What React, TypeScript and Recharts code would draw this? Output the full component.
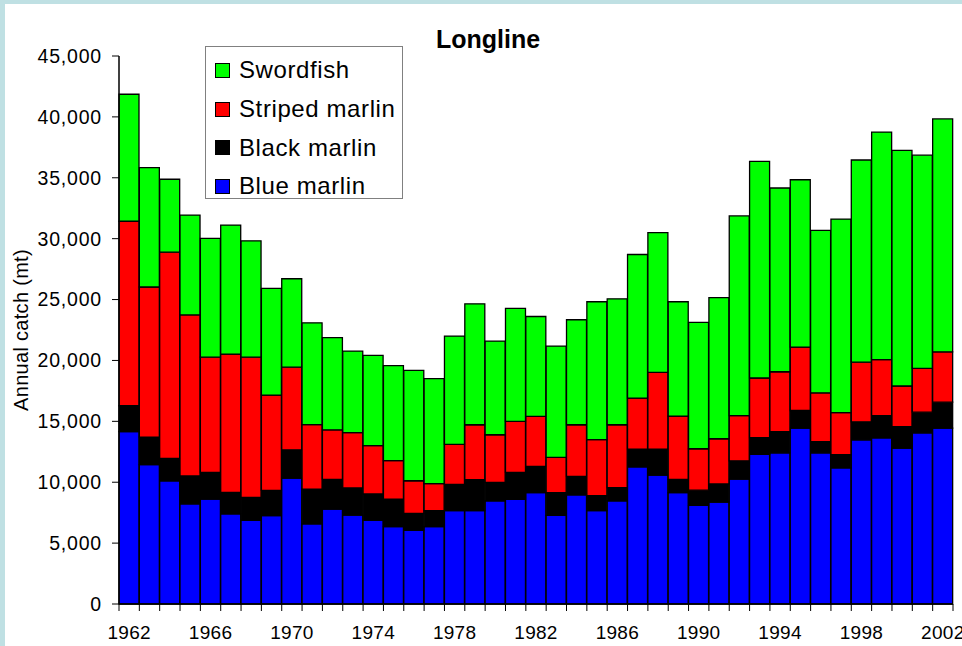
import * as React from 'react';
import { BarChart, Bar, XAxis, YAxis, Legend } from 'recharts';

const years = [
  1962, 1963, 1964, 1965, 1966, 1967, 1968, 1969, 1970, 1971, 1972, 1973, 1974, 1975,
  1976, 1977, 1978, 1979, 1980, 1981, 1982, 1983, 1984, 1985, 1986, 1987, 1988, 1989,
  1990, 1991, 1992, 1993, 1994, 1995, 1996, 1997, 1998, 1999, 2000, 2001, 2002,
];

const blueMarlin = [
  14160, 11450, 10120, 8220, 8620, 7410, 6870, 7260, 10340, 6590, 7800, 7290, 6870, 6350,
  6050, 6350, 7660, 7660, 8480, 8590, 9140, 7280, 8970, 7660, 8480, 11270, 10590, 9150,
  8100, 8360, 10250, 12290, 12410, 14450, 12410, 11190, 13480, 13650, 12800, 14050, 14450,
];

const blackMarlin = [
  2120, 2260, 1840, 2290, 2180, 1750, 1890, 2070, 2320, 2850, 2430, 2240, 2170, 2270,
  1390, 1310, 2160, 2550, 1510, 2220, 2160, 1860, 1510, 1230, 1070, 1450, 2130, 1080,
  1250, 1500, 1510, 1360, 1750, 1440, 930, 1080, 1480, 1820, 1760, 1700, 2120,
];

const stripedMarlin = [
  15150, 12320, 16930, 13230, 9470, 11360, 11510, 7830, 6790, 5290, 4070, 4550, 3960, 3150,
  2680, 2220, 3290, 4510, 3910, 4180, 4100, 2900, 4240, 4600, 5170, 4190, 6300, 5200,
  3400, 3710, 3710, 4910, 4910, 5210, 4000, 3450, 4900, 4590, 3340, 3600, 4140,
];

const swordfish = [
  10430, 9810, 5990, 8200, 9750, 10600, 9550, 8760, 7260, 8360, 7580, 6690, 7410, 7800,
  9060, 8620, 8890, 9930, 7690, 9280, 8210, 9140, 8620, 11330, 10340, 11790, 11480, 9390,
  10370, 11590, 16400, 17790, 15090, 13740, 13340, 15890, 16600, 18690, 19350, 17510, 19120,
];

const yTicks = [0, 5000, 10000, 15000, 20000, 25000, 30000, 35000, 40000, 45000];

// legend order, top to bottom
const legendItems = [
  { name: 'Swordfish', color: '#00ff00' },
  { name: 'Striped marlin', color: '#ff0000' },
  { name: 'Black marlin', color: '#000000' },
  { name: 'Blue marlin', color: '#0000ff' },
];

const data = years.map((year, i) => ({
  year,
  blue: blueMarlin[i],
  black: blackMarlin[i],
  striped: stripedMarlin[i],
  sword: swordfish[i],
}));

const FONT = '"Liberation Sans", Arial, sans-serif';
const W = 962;
const H = 646;
const PLOT_LEFT = 119;
const PLOT_RIGHT = 953;
const BAND = (PLOT_RIGHT - PLOT_LEFT) / years.length;

function XTick(props: { x?: number; y?: number; payload?: { value: number }; index?: number }) {
  const x = props.x ?? 0;
  const y = props.y ?? 0;
  const year = props.payload?.value ?? 0;
  const isLast = props.index === years.length - 1;
  return (
    <g>
      <line x1={x - BAND / 2} y1={y} x2={x - BAND / 2} y2={y + 7} stroke="#000" />
      {isLast && <line x1={x + BAND / 2} y1={y} x2={x + BAND / 2} y2={y + 7} stroke="#000" />}
      {year % 4 === 2 && (
        <text x={x} y={y + 35} textAnchor="middle" fontSize={19} letterSpacing={0.3} fontFamily={FONT} fill="#000">
          {year}
        </text>
      )}
    </g>
  );
}

function LegendBox() {
  return (
    <div
      style={{
        width: 196,
        height: 147,
        border: '1px solid #808080',
        background: '#fff',
        paddingTop: 4,
        boxSizing: 'content-box',
        fontFamily: FONT,
      }}
    >
      {legendItems.map((item) => (
        <div key={item.name} style={{ display: 'flex', alignItems: 'center', height: 38.7 }}>
          <span
            style={{
              display: 'inline-block',
              width: 13,
              height: 13,
              marginLeft: 9,
              marginRight: 9,
              background: item.color,
              border: '1px solid #000',
            }}
          />
          <span style={{ fontSize: 24, letterSpacing: 0.6, color: '#000', whiteSpace: 'nowrap' }}>{item.name}</span>
        </div>
      ))}
    </div>
  );
}

export default function App() {
  return (
    <div style={{ position: 'absolute', left: 0, top: 0, width: W, height: H, background: '#bfe0e3', overflow: 'hidden' }}>
      <div style={{ position: 'absolute', left: 5, top: 4, right: 0, bottom: 0, background: '#fff' }} />
      <div
        style={{
          position: 'absolute',
          left: 388,
          top: 27,
          width: 200,
          textAlign: 'center',
          fontFamily: FONT,
          fontWeight: 'bold',
          fontSize: 25,
          lineHeight: '25px',
          color: '#000',
        }}
      >
        Longline
      </div>
      <div style={{ position: 'absolute', left: 0, top: 0 }}>
        <BarChart
          width={W}
          height={H}
          data={data}
          margin={{ top: 56, right: W - PLOT_RIGHT, bottom: 0, left: 0 }}
          barCategoryGap={0}
          barGap={0}
        >
          <XAxis
            dataKey="year"
            interval={0}
            height={42}
            tickLine={false}
            tickSize={0}
            tickMargin={0}
            axisLine={{ stroke: '#000', strokeWidth: 1.5 }}
            tick={<XTick />}
          />
          <YAxis
            width={PLOT_LEFT}
            domain={[0, 45000]}
            ticks={yTicks}
            tickFormatter={(v: number) => v.toLocaleString('en-US')}
            tick={{ fill: '#000', fontSize: 19.5, fontFamily: FONT, letterSpacing: 0.8 }}
            tickSize={7}
            tickMargin={10}
            tickLine={{ stroke: '#000' }}
            axisLine={{ stroke: '#000', strokeWidth: 1.5 }}
            label={{
              content: () => (
                <text
                  x={28}
                  y={330}
                  transform="rotate(-90 28 330)"
                  textAnchor="middle"
                  fontSize={20}
                  letterSpacing={0.3}
                  fontFamily={FONT}
                  fill="#000"
                >
                  Annual catch (mt)
                </text>
              ),
            }}
          />
          <Legend
            layout="vertical"
            align="center"
            verticalAlign="middle"
            content={() => <LegendBox />}
            wrapperStyle={{ position: 'absolute', left: 205, top: 46, width: 'auto' }}
          />
          <Bar dataKey="blue" name="Blue marlin" stackId="a" fill="#0000ff" stroke="#000" strokeWidth={1.3} isAnimationActive={false} />
          <Bar dataKey="black" name="Black marlin" stackId="a" fill="#000000" stroke="#000" strokeWidth={1.3} isAnimationActive={false} />
          <Bar dataKey="striped" name="Striped marlin" stackId="a" fill="#ff0000" stroke="#000" strokeWidth={1.3} isAnimationActive={false} />
          <Bar dataKey="sword" name="Swordfish" stackId="a" fill="#00ff00" stroke="#000" strokeWidth={1.3} isAnimationActive={false} />
        </BarChart>
      </div>
    </div>
  );
}
